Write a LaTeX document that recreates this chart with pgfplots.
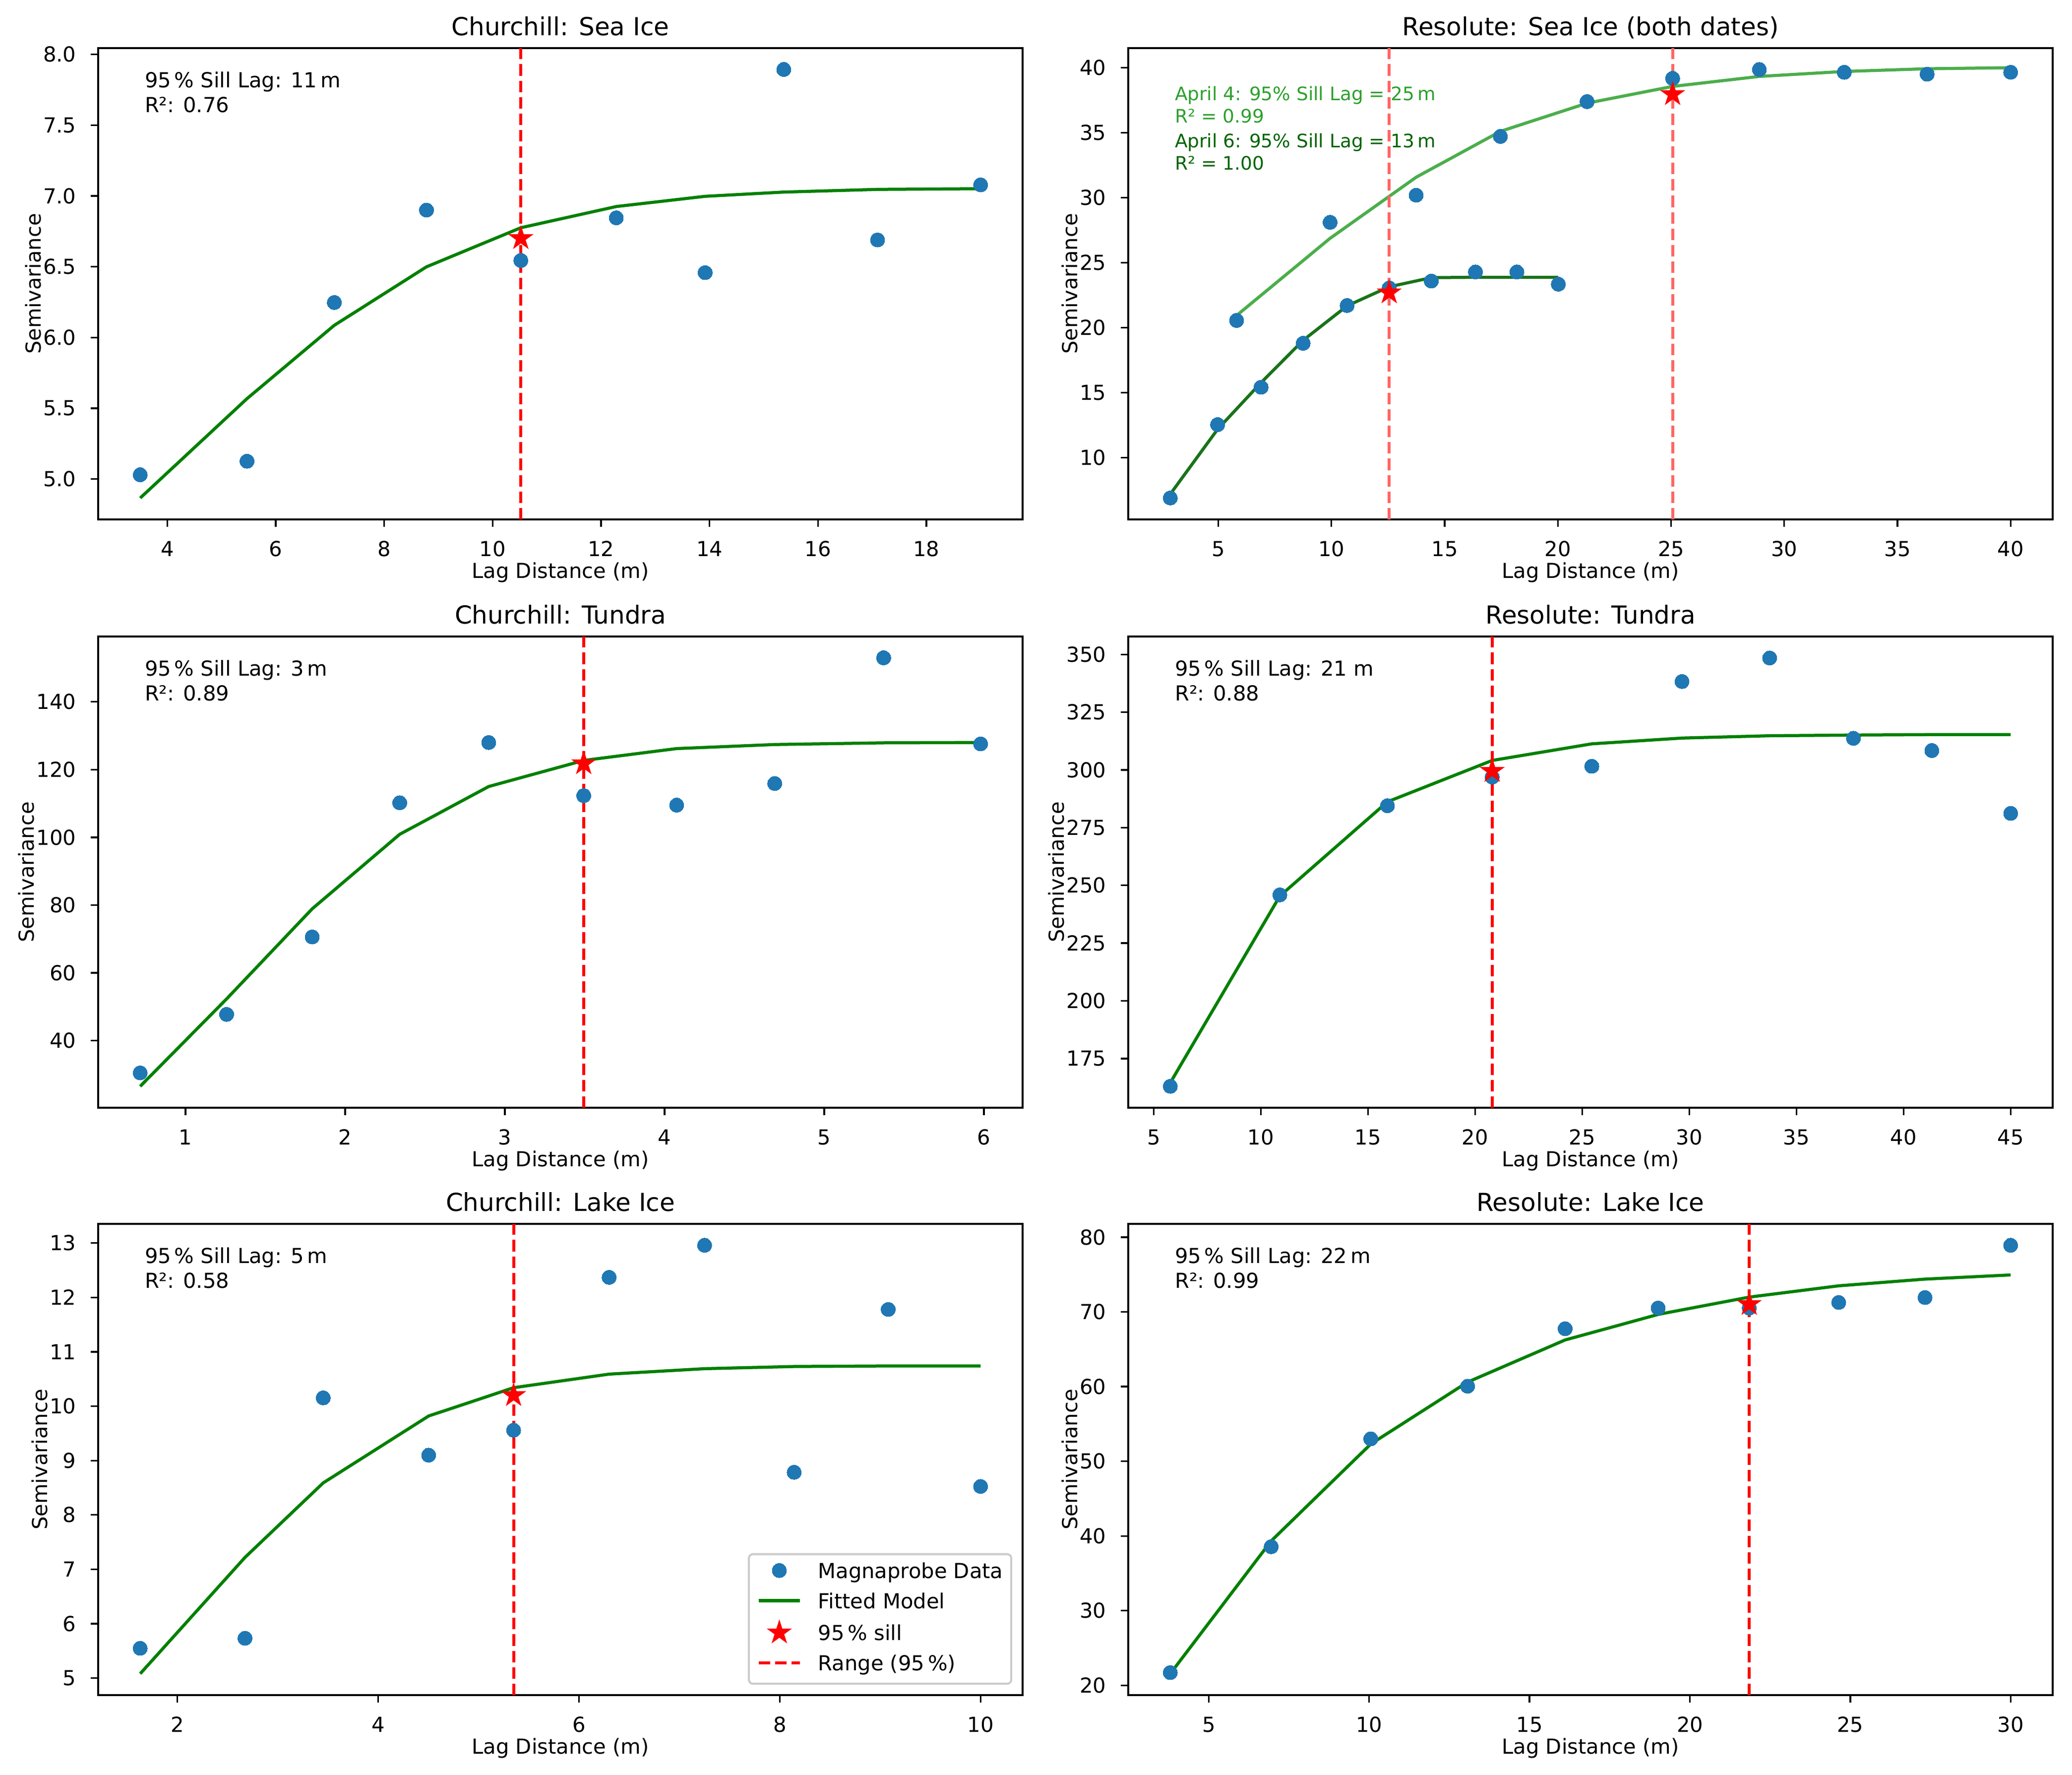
\documentclass[border=0pt]{standalone}
\usepackage{fontspec}
\setmainfont{DejaVu Sans}
\usepackage{pgfplots}
\pgfplotsset{compat=1.18}
\definecolor{mblue}{HTML}{1F77B4}
\definecolor{mgreen}{HTML}{008000}
\definecolor{tabgreen}{HTML}{2CA02C}
\definecolor{dkgreen}{HTML}{006400}
\definecolor{legedge}{HTML}{CCCCCC}
\pgfdeclareplotmark{fstar}{%
  \pgfpathmoveto{\pgfqpointpolar{90}{\pgfplotmarksize}}%
  \pgfpathlineto{\pgfqpointpolar{126}{0.381966\pgfplotmarksize}}%
  \pgfpathlineto{\pgfqpointpolar{162}{\pgfplotmarksize}}%
  \pgfpathlineto{\pgfqpointpolar{198}{0.381966\pgfplotmarksize}}%
  \pgfpathlineto{\pgfqpointpolar{234}{\pgfplotmarksize}}%
  \pgfpathlineto{\pgfqpointpolar{270}{0.381966\pgfplotmarksize}}%
  \pgfpathlineto{\pgfqpointpolar{306}{\pgfplotmarksize}}%
  \pgfpathlineto{\pgfqpointpolar{342}{0.381966\pgfplotmarksize}}%
  \pgfpathlineto{\pgfqpointpolar{18}{\pgfplotmarksize}}%
  \pgfpathlineto{\pgfqpointpolar{54}{0.381966\pgfplotmarksize}}%
  \pgfpathclose
  \pgfusepathqfillstroke
}
\newcommand{\tfont}{\fontsize{10bp}{12bp}\selectfont}
\tikzset{note/.style={anchor=north west, inner sep=0pt, align=left, font=\tfont}}
\pgfplotsset{
  panel/.style={
    scale only axis, width=447.36bp, height=228bp, anchor=south west,
    tick align=outside, tick pos=left, major tick length=3.5bp,
    tick style={line width=0.8bp, black},
    axis line style={line width=0.8bp},
    scaled ticks=false,
    /pgf/number format/assume math mode=true,
    ticklabel style={font=\tfont, inner sep=0pt},
    xticklabel style={anchor=base, yshift=-14.3bp},
    yticklabel style={anchor=east, xshift=-7bp},
    label style={font=\tfont, inner sep=0pt},
    xlabel style={at={(rel axis cs:0.5,0)}, anchor=base, yshift=-28.5bp},
    ylabel style={at={(ticklabel cs:0.5,1.2bp)}, anchor=base},
    title style={font=\fontsize{12bp}{14bp}\selectfont, inner sep=0pt, at={(rel axis cs:0.5,1)}, anchor=base, yshift=0.2bp},
    xlabel={Lag Distance (m)}, ylabel={Semivariance},
  },
  pts/.style={only marks, mark=*, mark size=3.45bp, color=mblue, mark options={line width=0pt}},
  fit/.style={mgreen, line width=1.5bp, mark=none},
  sill/.style={only marks, mark=fstar, mark size=4.8bp, color=red, mark options={line width=1bp, fill=red, draw=red}},
  rng/.style={red, line width=1.5bp, dash pattern=on 5.55bp off 2.4bp, mark=none},
}
\begin{document}
\begin{tikzpicture}
\useasboundingbox (0,0) rectangle (1002.72bp,858.48bp);

% ---------- Churchill: Sea Ice
\begin{axis}[panel, at={(47.52bp,607.2bp)}, title={Churchill: Sea Ice},
  xmin=2.725, xmax=19.775, ymin=4.715, ymax=8.044,
  xtick={4,6,...,18}, ytick={5,5.5,...,8},
  yticklabel style={/pgf/number format/.cd, fixed, fixed zerofill, precision=1}]
\addplot[pts] coordinates {(3.5,5.03)(5.47,5.126)(7.08,6.247)(8.78,6.90)(10.52,6.544)(12.28,6.845)(13.92,6.458)(15.37,7.893)(17.1,6.689)(19.0,7.078)};
\addplot[fit] coordinates {(3.5,4.866)(5.47,5.568)(7.08,6.086)(8.78,6.499)(10.52,6.775)(12.28,6.925)(13.92,6.997)(15.37,7.027)(17.1,7.046)(19.0,7.051)};
\addplot[sill] coordinates {(10.52,6.70)};
\addplot[rng] coordinates {(10.52,4.715)(10.52,8.044)};
\node[note] at (rel axis cs:0.05,0.95) {95\,\% Sill Lag: 11\,m\\R²: 0.76};
\end{axis}

% ---------- Resolute: Sea Ice
\begin{axis}[panel, at={(546bp,607.2bp)}, title={Resolute: Sea Ice (both dates)},
  xmin=1.024, xmax=41.856, ymin=5.236, ymax=41.509,
  xtick={5,10,...,40}, ytick={10,15,...,40}]
\addplot[pts] coordinates {(2.88,6.885)(4.97,12.53)(6.89,15.41)(8.75,18.79)(10.69,21.70)(12.55,23.05)(14.41,23.58)(16.36,24.28)(18.19,24.28)(20.02,23.34)};
\addplot[pts] coordinates {(5.81,20.55)(9.94,28.10)(13.74,30.19)(17.46,34.71)(21.29,37.39)(25.07,39.18)(28.90,39.86)(32.65,39.65)(36.31,39.50)(40.0,39.65)};
\addplot[tabgreen, line width=1.5bp, draw opacity=0.85] coordinates {(5.81,20.93)(9.94,26.87)(13.74,31.57)(17.46,35.10)(21.29,37.27)(25.07,38.56)(28.90,39.33)(32.65,39.71)(36.31,39.92)(40.0,40.0)};
\addplot[dkgreen, line width=1.5bp, draw opacity=0.9] coordinates {(2.88,7.18)(4.97,12.17)(6.89,15.76)(8.75,19.02)(10.69,21.67)(12.55,23.14)(14.41,23.84)(16.36,23.87)(18.19,23.87)(20.02,23.87)};
\addplot[sill] coordinates {(25.07,37.95)};
\addplot[sill] coordinates {(12.55,22.69)};
\addplot[rng, red!60!white] coordinates {(25.07,5.236)(25.07,41.509)};
\addplot[rng, red!60!white] coordinates {(12.55,5.236)(12.55,41.509)};
\node[note, font=\fontsize{9bp}{10.8bp}\selectfont, text=tabgreen] at (rel axis cs:0.05,0.92) {April 4: 95\% Sill Lag = 25\,m\\R² = 0.99};
\node[note, font=\fontsize{9bp}{10.8bp}\selectfont, text=dkgreen] at (rel axis cs:0.05,0.82) {April 6: 95\% Sill Lag = 13\,m\\R² = 1.00};
\end{axis}

% ---------- Churchill: Tundra
\begin{axis}[panel, at={(47.52bp,322.56bp)}, title={Churchill: Tundra},
  xmin=0.454, xmax=6.242, ymin=20.17, ymax=159.3,
  xtick={1,...,6}, ytick={40,60,...,140}]
\addplot[pts] coordinates {(0.717,30.47)(1.258,47.74)(1.794,70.6)(2.342,110.2)(2.899,128.0)(3.494,112.3)(4.076,109.5)(4.69,115.9)(5.372,153.0)(5.979,127.6)};
\addplot[fit] coordinates {(0.717,26.5)(1.258,52.3)(1.794,78.9)(2.342,100.9)(2.899,115.0)(3.494,122.7)(4.076,126.2)(4.69,127.4)(5.372,127.9)(5.979,128.0)};
\addplot[sill] coordinates {(3.494,121.8)};
\addplot[rng] coordinates {(3.494,20.17)(3.494,159.3)};
\node[note] at (rel axis cs:0.05,0.95) {95\,\% Sill Lag: 3\,m\\R²: 0.89};
\end{axis}

% ---------- Resolute: Tundra
\begin{axis}[panel, at={(546bp,322.56bp)}, title={Resolute: Tundra},
  xmin=3.814, xmax=46.96, ymin=153.7, ymax=357.8,
  xtick={5,10,...,45}, ytick={175,200,...,350}]
\addplot[pts] coordinates {(5.775,163.0)(10.89,245.9)(15.91,284.5)(20.80,296.9)(25.45,301.6)(29.66,338.3)(33.75,348.5)(37.66,313.7)(41.32,308.4)(45.0,281.2)};
\addplot[fit] coordinates {(5.775,164.5)(10.89,245.4)(15.91,286.2)(20.80,304.1)(25.45,311.3)(29.66,313.8)(33.75,314.8)(37.66,315.1)(41.32,315.3)(45.0,315.3)};
\addplot[sill] coordinates {(20.80,299.5)};
\addplot[rng] coordinates {(20.80,153.7)(20.80,357.8)};
\node[note] at (rel axis cs:0.05,0.95) {95\,\% Sill Lag: 21 m\\R²: 0.88};
\end{axis}

% ---------- Churchill: Lake Ice
\begin{axis}[panel, at={(47.52bp,38.4bp)}, title={Churchill: Lake Ice},
  xmin=1.2115, xmax=10.4185, ymin=4.686, ymax=13.354,
  xtick={2,4,...,10}, ytick={5,...,13},
  legend cell align=left,
  legend image code/.code={\draw[mark repeat=2,mark phase=2,#1] plot coordinates {(0bp,1.1bp) (10bp,1.1bp) (20bp,1.1bp)};},
  legend style={at={(rel axis cs:1,0)}, anchor=south east, xshift=-5bp, yshift=5bp,
    draw=legedge, line width=1bp, rounded corners=2bp, fill=white,
    inner xsep=4bp, inner ysep=4bp, row sep=4.6bp, column sep=8bp, font=\tfont,
    nodes={inner sep=0pt, text height=7.6bp, text depth=2.4bp}}]
\addplot[pts] coordinates {(1.63,5.548)(2.674,5.732)(3.453,10.154)(4.503,9.10)(5.349,9.558)(6.30,12.37)(7.251,12.96)(8.143,8.785)(9.08,11.78)(10.0,8.525)};
\addlegendentry{Magnaprobe Data}
\addplot[fit] coordinates {(1.63,5.08)(2.674,7.22)(3.453,8.59)(4.503,9.82)(5.349,10.34)(6.30,10.59)(7.251,10.69)(8.143,10.73)(9.08,10.74)(10.0,10.74)};
\addlegendentry{Fitted Model}
\addplot[sill] coordinates {(5.349,10.20)};
\addlegendentry{95\,\% sill}
\addplot[rng] coordinates {(5.349,4.686)(5.349,13.354)};
\addlegendentry{Range (95\,\%)}
\node[note] at (rel axis cs:0.05,0.95) {95\,\% Sill Lag: 5\,m\\R²: 0.58};
\end{axis}

% ---------- Resolute: Lake Ice
\begin{axis}[panel, at={(546bp,38.4bp)}, title={Resolute: Lake Ice},
  xmin=2.49, xmax=31.31, ymin=18.69, ymax=81.80,
  xtick={5,10,...,30}, ytick={20,30,...,80}]
\addplot[pts] coordinates {(3.80,21.71)(6.945,38.57)(10.05,53.01)(13.07,60.06)(16.11,67.76)(19.01,70.53)(21.85,70.53)(24.64,71.28)(27.33,71.94)(30.0,78.93)};
\addplot[fit] coordinates {(3.80,21.56)(6.945,39.33)(10.05,52.31)(13.07,60.61)(16.11,66.25)(19.01,69.67)(21.85,71.99)(24.64,73.50)(27.33,74.40)(30.0,74.96)};
\addplot[sill] coordinates {(21.85,71.03)};
\addplot[rng] coordinates {(21.85,18.69)(21.85,81.80)};
\node[note] at (rel axis cs:0.05,0.95) {95\,\% Sill Lag: 22\,m\\R²: 0.99};
\end{axis}
\end{tikzpicture}
\end{document}
